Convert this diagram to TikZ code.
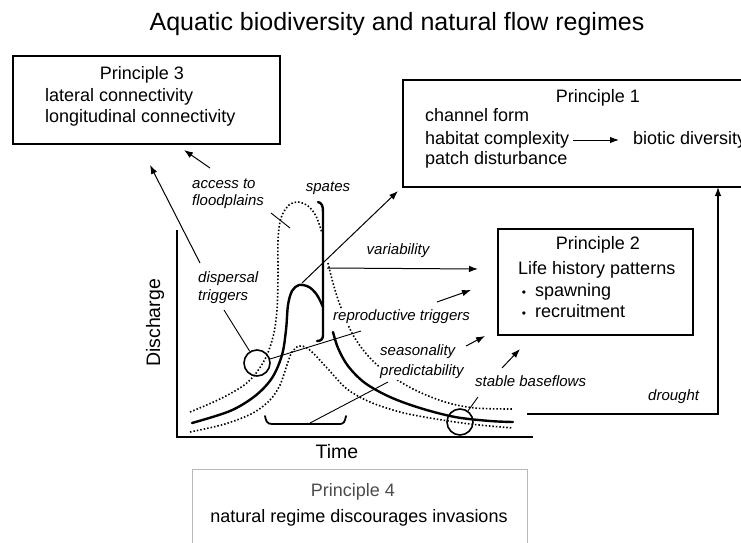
\documentclass[tikz,border=0pt]{standalone}
\usepackage{fontspec}
\setmainfont{Liberation Sans}
\usetikzlibrary{arrows.meta}
\begin{document}
\begin{tikzpicture}[x=1pt,y=-1pt,
  pbox/.style={draw, line width=1.2pt, rectangle, inner sep=0pt},
  boxtxt/.style={font=\fontsize{18}{21}\selectfont, inner sep=0pt, text height=13pt, text depth=4pt},
  lab/.style={font=\itshape\fontsize{15}{18}\selectfont, inner sep=1pt, fill=white, text height=11pt, text depth=3.5pt, anchor=west},
  axl/.style={font=\fontsize{19.5}{22}\selectfont, inner sep=0pt},
  fine/.style={line width=0.9pt},
  arr/.style={line width=1pt, -{Latex[length=9pt,width=6.5pt]}},
  hydro/.style={line width=2.4pt, line cap=round, line join=round},
  dots/.style={line width=1.6pt, dash pattern=on 1.5pt off 2pt},
  ring/.style={draw, line width=1.6pt, circle, minimum size=26pt, inner sep=0pt}]
\useasboundingbox (0,0) rectangle (741,543);
\clip (0,0) rectangle (741,543);

% title
\node[font=\fontsize{25}{28}\selectfont, inner sep=0pt] (title) at (397,24) {Aquatic biodiversity and natural flow regimes};

% Principle 3
\node[pbox, minimum width=267pt, minimum height=88pt] (p3) at (146.5,100) {};
\node[boxtxt] (p3h) at (142,75) {Principle 3};
\node[boxtxt, anchor=west] (p3a) at (45,97) {lateral connectivity};
\node[boxtxt, anchor=west] (p3b) at (45,118) {longitudinal connectivity};

% Principle 1
\node[pbox, minimum width=357pt, minimum height=107pt] (p1) at (581.5,133.5) {};
\node[boxtxt] (p1h) at (598,98) {Principle 1};
\node[boxtxt, anchor=west] (p1a) at (425,117) {channel form};
\node[boxtxt, anchor=west] (p1b) at (425,140) {habitat complexity};
\node[boxtxt, anchor=west] (p1c) at (425,160) {patch disturbance};
\node[boxtxt, anchor=west] (p1d) at (633,140) {biotic diversity};
\draw[arr, shorten <=4pt, shorten >=14pt] (p1b.east) -- (p1d.west);

% Principle 2
\node[pbox, minimum width=195pt, minimum height=106pt] (p2) at (595.5,282) {};
\node[boxtxt] (p2h) at (598,245) {Principle 2};
\node[boxtxt, anchor=west] (p2a) at (518,270) {Life history patterns};
\node[boxtxt, font=\fontsize{12}{14}\selectfont] (bu1) at (524,292) {•};
\node[boxtxt, anchor=west] (p2b) at (535,292) {spawning};
\node[boxtxt, font=\fontsize{12}{14}\selectfont] (bu2) at (524,313) {•};
\node[boxtxt, anchor=west] (p2c) at (535,313) {recruitment};

% Principle 4
\node[pbox, draw=gray!55, line width=1pt, minimum width=335pt, minimum height=90pt] (p4) at (359.5,514) {};
\node[boxtxt, text=black!70] (p4h) at (353,492) {Principle 4};
\node[boxtxt] (p4a) at (359,518) {natural regime discourages invasions};

% axes
\coordinate (axtop) at (177,230);
\coordinate (axo) at (177,437);
\coordinate (axr) at (533,437);
\draw[line width=1.3pt] (axtop) -- (axo) -- (axr);
\node[axl, rotate=90] (disc) at (155,323) {Discharge};
\node[axl] (time) at (337,452) {Time};

% dotted envelopes
\draw[dots] plot[smooth, tension=0.55] coordinates {(190,412) (222,398) (248,382) (264,361) (273,337) (277,310) (278,275) (278,240) (281,218) (289,205) (298,202) (308,206) (316,216) (322,233)};
\draw[dots] plot[smooth, tension=0.55] coordinates {(328,263) (333,283) (340,305) (353,335) (370,358) (390,375) (415,390) (445,402) (475,408) (513,409)};
\draw[dots] plot[smooth, tension=0.55] coordinates {(190,432) (225,424) (253,413) (270,400) (280,385) (287,365) (292,352) (299,346) (307,348) (316,356) (328,369) (347,389) (370,402) (400,412) (430,418) (470,424) (513,428)};

% hydrograph
\draw[hydro] plot[smooth, tension=0.55] coordinates {(192,423) (230,411) (255,396) (272,378) (282,355) (286,330) (288,305) (292,291) (299,285) (309,287) (317,295) (323,307)};
\draw[hydro] (318,202) .. controls (322,203) and (323,206) .. (323,212) -- (323,335) .. controls (323,339) and (321,341) .. (317,341);
\draw[hydro] plot[smooth, tension=0.55] coordinates {(333,332) (338,348) (348,366) (365,383) (390,397) (420,408) (455,417) (490,421) (513,422)};

% circles and bracket
\node[ring] (cdisp) at (257,363) {};
\node[ring] (cbase) at (460,422) {};
\draw[line width=1.8pt, line cap=round] (265,416) .. controls (266,421) and (267,424) .. (272,424) -- (340,424) .. controls (344,424) and (345,421) .. (346,416);
\coordinate (brm) at (310,423);

% pointer endpoints
\coordinate (dispT) at (224,310);
\coordinate (reprT) at (361,331);
\coordinate (seasT) at (388,382);
\coordinate (baseT) at (478,397);
\coordinate (fpA) at (271,213);
\coordinate (fpB) at (290,228);
\coordinate (humpA) at (302,283);
\coordinate (p1tip) at (398,191);
\coordinate (varA) at (327,268);
\coordinate (varB) at (478,269);
\coordinate (dsA) at (200,263);
\coordinate (dsB) at (150,165);
\coordinate (acA) at (210,168);
\coordinate (acB) at (184,150);
\coordinate (rpA) at (437,302);
\coordinate (rpB) at (471,290);
\coordinate (ssA) at (466,346);
\coordinate (ssB) at (485,336);
\coordinate (sbA) at (502,368);
\coordinate (sbB) at (520,349);
\coordinate (drA) at (527,414);
\coordinate (drB) at (718,187);

% thin pointers
\draw[fine] (cdisp) -- (dispT);
\draw[fine] (cdisp) -- (reprT);
\draw[fine] (brm) -- (seasT);
\draw[fine] (cbase) -- (baseT);
\draw[fine] (fpA) -- (fpB);

% arrows
\draw[arr] (humpA) -- (p1tip);
\draw[arr] (varA) -- (varB);
\draw[arr] (dsA) -- (dsB);
\draw[arr] (acA) -- (acB);
\draw[arr] (rpA) -- (rpB);
\draw[arr] (ssA) -- (ssB);
\draw[arr] (sbA) -- (sbB);
\draw[arr, line width=1.2pt] (drA) -| (drB);

% italic labels
\node[lab] (acc1) at (191,185) {access to};
\node[lab] (acc2) at (191,202) {floodplains};
\node[lab, anchor=center] (spates) at (328,188) {spates};
\node[lab, anchor=center] (vari) at (398,251) {variability};
\node[lab] (dis1) at (197,279) {dispersal};
\node[lab] (dis2) at (197,297) {triggers};
\node[lab] (repr) at (332,317) {reproductive triggers};
\node[lab] (seas) at (379,352) {seasonality};
\node[lab] (pred) at (379,372) {predictability};
\node[lab] (stab) at (474,383) {stable baseflows};
\node[lab] (drou) at (647,397) {drought};
\end{tikzpicture}
\end{document}
